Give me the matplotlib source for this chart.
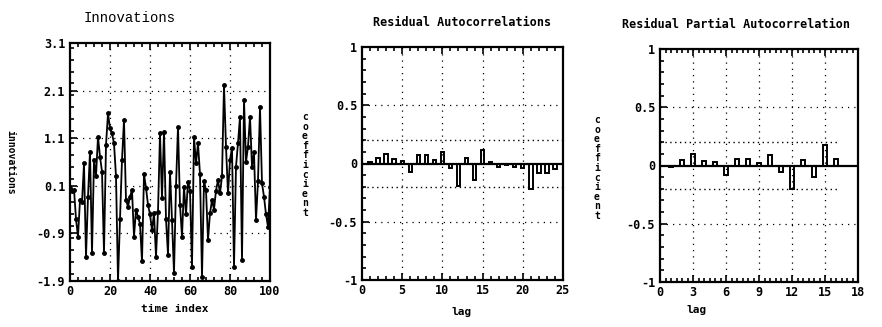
import matplotlib
matplotlib.use("Agg")
from matplotlib import pyplot as plt
from matplotlib.ticker import MultipleLocator, FixedLocator

# innovations series (time index 0..100)
time_index = list(range(101))
innovations = [
    0.05, 0.0, 0.02, -0.6, -0.97, -0.2, -0.25, 0.57, -1.39, -0.13,
    0.82, -1.32, 0.64, 0.3, 1.13, 0.71, 0.4, -1.32, 0.96, 1.62,
    1.31, 1.2, 0.99, 0.3, -1.9, -0.6, 0.64, 1.48, -0.2, -0.34,
    -0.13, 0.01, -0.97, -0.4, -0.55, -0.7, -1.49, 0.34, 0.06, -0.3,
    -0.5, -0.83, -0.48, -1.39, -0.44, 1.2, -0.16, 1.24, -0.6, -1.35,
    0.4, -0.62, -1.74, 0.1, 1.34, -0.3, -0.97, 0.08, -0.5, 0.19,
    0.0, -1.6, 1.13, 0.57, 0.99, 0.34, -1.81, 0.2, 0.01, -1.03,
    -0.48, -0.2, -0.4, 0.0, 0.22, -0.06, 0.3, 2.22, 0.92, -0.06,
    0.64, 0.9, -1.6, 0.5, 1.0, 1.55, -1.46, 1.9, 0.6, 0.92,
    1.55, 0.5, 0.8, -0.62, 0.2, 1.76, 0.15, -0.13, -0.5, -0.76,
    0.08,
]

# residual autocorrelations
acf_lags = list(range(1, 25))
acf_vals = [0.01, 0.05, 0.08, 0.04, 0.02, -0.07, 0.07, 0.07, 0.03, 0.10,
            -0.04, -0.19, 0.05, -0.14, 0.12, 0.01, -0.03, -0.01, -0.03, -0.04,
            -0.22, -0.08, -0.08, -0.05]

# residual partial autocorrelations
pacf_lags = list(range(1, 17))
pacf_vals = [-0.01, 0.05, 0.10, 0.04, 0.03, -0.08, 0.06, 0.06, 0.02, 0.09,
             -0.06, -0.20, 0.05, -0.10, 0.18, 0.06]

conf = 0.2

mono = "DejaVu Sans Mono"
plt.rcParams["font.family"] = mono
plt.rcParams["font.weight"] = "bold"

fig = plt.figure(figsize=(8.82, 3.27), dpi=100)
W, H = 882.0, 327.0


def box(x0, y0, x1, y1):
    return [x0 / W, 1 - y1 / H, (x1 - x0) / W, (y1 - y0) / H]


grid_style = dict(color="black", linestyle=(0, (1, 4)), linewidth=0.9)


def style_axes(ax):
    for s in ax.spines.values():
        s.set_linewidth(1.6)
    ax.tick_params(which="both", direction="in", top=True, right=False,
                   width=1.2, labelsize=8.5)
    ax.tick_params(which="major", length=5)
    ax.tick_params(which="minor", length=3)
    ax.tick_params(axis="x", pad=3)
    for lab in ax.get_xticklabels() + ax.get_yticklabels():
        lab.set_fontweight("bold")


# ---- Innovations ----
ax1 = fig.add_axes(box(70, 43, 270, 281))
ax1.plot(time_index, innovations, "-o", color="black", linewidth=1.3,
         markersize=2.5)
ax1.set_xlim(0, 100)
ax1.set_ylim(-1.9, 3.1)
yt = [-1.9, -0.9, 0.1, 1.1, 2.1, 3.1]
ax1.yaxis.set_major_locator(FixedLocator(yt))
ax1.set_yticklabels(["-1.9", "-0.9", "0.1", "1.1", "2.1", "3.1"])
ax1.xaxis.set_major_locator(MultipleLocator(20))
ax1.xaxis.set_minor_locator(MultipleLocator(4))
ax1.yaxis.set_minor_locator(MultipleLocator(0.25))
for v in [20, 40, 60, 80]:
    ax1.axvline(v, **grid_style)
for v in yt[1:-1]:
    ax1.axhline(v, **grid_style)
style_axes(ax1)
fig.text(130 / W, 1 - 18 / H, "Innovations", ha="center", va="center",
         fontsize=10, family="Liberation Mono", fontweight="normal")
fig.text(175 / W, 1 - 309 / H, "time index", ha="center", va="center",
         fontsize=8)
fig.text(10 / W, 1 - 162 / H, "innovations", ha="center", va="center",
         fontsize=7, rotation=-90)


def corr_panel(ax, lags, vals, xmax, xstep, xminor, band_end):
    ax.bar(lags, vals, width=0.42, facecolor="white", edgecolor="black",
           linewidth=1.4)
    ax.axhline(0, color="black", linewidth=1.6)
    ax.plot([0, band_end], [conf, conf], color="black",
            linestyle=(0, (1, 2.5)), linewidth=1.0)
    ax.plot([0, band_end], [-conf, -conf], color="black",
            linestyle=(0, (1, 2.5)), linewidth=1.0)
    ax.set_xlim(0, xmax)
    ax.set_ylim(-1, 1)
    ax.xaxis.set_major_locator(MultipleLocator(xstep))
    ax.xaxis.set_minor_locator(MultipleLocator(xminor))
    ax.yaxis.set_major_locator(FixedLocator([-1, -0.5, 0, 0.5, 1]))
    ax.yaxis.set_minor_locator(MultipleLocator(0.1))
    ax.set_yticklabels(["-1", "-0.5", "0", "0.5", "1"])
    for v in range(xstep, xmax, xstep):
        ax.axvline(v, **grid_style)
    for v in [-0.5, 0.5]:
        ax.axhline(v, **grid_style)
    style_axes(ax)


# ---- Residual Autocorrelations ----
ax2 = fig.add_axes(box(362, 47, 563, 280))
corr_panel(ax2, acf_lags, acf_vals, 25, 5, 1, 25)
fig.text(462 / W, 1 - 22 / H, "Residual Autocorrelations", ha="center",
         va="center", fontsize=8.5)
fig.text(462 / W, 1 - 312 / H, "lag", ha="center", va="center", fontsize=8)
fig.text(305 / W, 1 - 165 / H, "\n".join("coefficient"), ha="center",
         va="center", fontsize=7, linespacing=0.95)

# ---- Residual Partial Autocorrelation ----
ax3 = fig.add_axes(box(660, 49, 858, 282))
corr_panel(ax3, pacf_lags, pacf_vals, 18, 3, 0.5, 16.3)
fig.text(622 / W, 1 - 25 / H, "Residual Partial Autocorrelation", ha="left",
         va="center", fontsize=8.5)
fig.text(697 / W, 1 - 310 / H, "lag", ha="center", va="center", fontsize=8)
fig.text(597 / W, 1 - 168 / H, "\n".join("coefficient"), ha="center",
         va="center", fontsize=7, linespacing=0.95)

fig.savefig("out.png", dpi=100)
